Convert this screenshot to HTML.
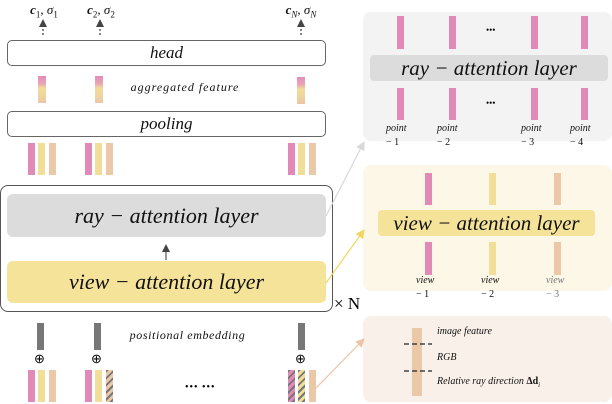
<!DOCTYPE html>
<html><head><meta charset="utf-8"><style>
body{margin:0;width:612px;height:404px;background:#fff;position:relative;overflow:hidden;font-family:"Liberation Serif",serif}
.a{position:absolute}
.box{position:absolute;box-sizing:border-box;border:1.3px solid #666;border-radius:5px;background:#fff}
.t{position:absolute;font-style:italic;text-align:center;white-space:nowrap;color:#111}
.pk{background:#e189b7}.yl{background:#f0de99}.pc{background:#ebc8a8}.gy{background:#777}
.hp{background:repeating-linear-gradient(135deg,#777 0 2px,#e189b7 2px 5px)}
.hy{background:repeating-linear-gradient(135deg,#777 0 2px,#f0de99 2px 5px)}
.hc{background:repeating-linear-gradient(135deg,#777 0 2px,#ebc8a8 2px 5px)}
.ag{background:linear-gradient(#e38ab8 0,#e9a9b4 30%,#f0dc98 45%,#f0d69c 70%,#ebc6a8 100%)}
</style></head><body>
<div class="t" style="left:22px;top:2px;width:44px;font-size:13px"><b>c</b><sub style="font-size:9px;font-style:normal">1</sub>, σ<sub style="font-size:9px;font-style:normal">1</sub></div>
<div class="t" style="left:79px;top:2px;width:44px;font-size:13px"><b>c</b><sub style="font-size:9px;font-style:normal">2</sub>, σ<sub style="font-size:9px;font-style:normal">2</sub></div>
<div class="t" style="left:279px;top:2px;width:44px;font-size:13px"><b>c</b><sub style="font-size:9px">N</sub>, σ<sub style="font-size:9px">N</sub></div>
<div class="box" style="left:7px;top:40px;width:319px;height:26px"></div>
<div class="t" style="left:7px;top:40px;width:319px;font-size:17px;line-height:26px">head</div>
<div class="a ag" style="left:38px;top:76px;width:8px;height:27px"></div>
<div class="a ag" style="left:95px;top:76px;width:8px;height:27px"></div>
<div class="a ag" style="left:297px;top:77px;width:8px;height:27px"></div>
<div class="t" style="left:120px;top:80px;width:130px;font-size:12px;letter-spacing:1px">aggregated feature</div>
<div class="box" style="left:7px;top:111px;width:319px;height:26px"></div>
<div class="t" style="left:7px;top:111px;width:319px;font-size:17px;line-height:26px">pooling</div>
<div class="a pk" style="left:28px;top:143px;width:7px;height:32px"></div><div class="a yl" style="left:38px;top:143px;width:7px;height:32px"></div><div class="a pc" style="left:49px;top:143px;width:7px;height:32px"></div>
<div class="a pk" style="left:85px;top:143px;width:7px;height:32px"></div><div class="a yl" style="left:95px;top:143px;width:7px;height:32px"></div><div class="a pc" style="left:106px;top:143px;width:7px;height:32px"></div>
<div class="a pk" style="left:288px;top:143px;width:7px;height:32px"></div><div class="a yl" style="left:298px;top:143px;width:7px;height:32px"></div><div class="a pc" style="left:309px;top:143px;width:7px;height:32px"></div>
<div class="box" style="left:0;top:185px;width:333px;height:127px;border-radius:8px;border-color:#555"></div>
<div class="a" style="left:7px;top:194px;width:319px;height:43px;background:#dcdcdc;border-radius:6px"></div>
<div class="t" style="left:7px;top:194px;width:319px;font-size:22px;line-height:43px">ray − attention layer</div>
<div class="a" style="left:7px;top:261px;width:319px;height:42px;background:#f6e39a;border-radius:6px"></div>
<div class="t" style="left:7px;top:261px;width:319px;font-size:22px;line-height:42px">view − attention layer</div>
<div class="a" style="left:334px;top:294px;font-size:17px">× N</div>
<div class="a gy" style="left:37px;top:323px;width:7px;height:27px"></div>
<div class="a gy" style="left:94px;top:323px;width:7px;height:27px"></div>
<div class="a gy" style="left:298px;top:323px;width:7px;height:27px"></div>
<div class="t" style="left:115px;top:328px;width:145px;font-size:12px;letter-spacing:0.6px">positional embedding</div>
<div class="a" style="left:34px;top:351px;font-size:13px">⊕</div>
<div class="a" style="left:91px;top:351px;font-size:13px">⊕</div>
<div class="a" style="left:295px;top:351px;font-size:13px">⊕</div>
<div class="a pk" style="left:28px;top:370px;width:7px;height:32px"></div><div class="a yl" style="left:38px;top:370px;width:7px;height:32px"></div><div class="a pc" style="left:49px;top:370px;width:7px;height:32px"></div>
<div class="a pk" style="left:85px;top:370px;width:7px;height:32px"></div><div class="a yl" style="left:95px;top:370px;width:7px;height:32px"></div><div class="a hc" style="left:106px;top:370px;width:7px;height:32px"></div>
<div class="a hp" style="left:288px;top:370px;width:7px;height:32px"></div><div class="a hy" style="left:298px;top:370px;width:7px;height:32px"></div><div class="a pc" style="left:309px;top:370px;width:7px;height:32px"></div>
<div class="a" style="left:185px;top:382px;font-size:10px;letter-spacing:1px">••• •••</div>
<div class="a" style="left:363px;top:12px;width:249px;height:129px;background:#f3f3f3;border-radius:8px"></div>
<div class="a pk" style="left:397px;top:16px;width:7px;height:33px"></div><div class="a pk" style="left:449px;top:16px;width:7px;height:33px"></div><div class="a pk" style="left:531px;top:16px;width:7px;height:33px"></div><div class="a pk" style="left:581px;top:16px;width:7px;height:33px"></div>
<div class="a" style="left:486px;top:25px;font-size:9px">•••</div>
<div class="a" style="left:370px;top:55px;width:238px;height:26px;background:#dcdcdc;border-radius:4px"></div>
<div class="t" style="left:370px;top:55px;width:238px;font-size:21px;line-height:26px">ray − attention layer</div>
<div class="a pk" style="left:397px;top:88px;width:7px;height:32px"></div><div class="a pk" style="left:449px;top:88px;width:7px;height:32px"></div><div class="a pk" style="left:531px;top:88px;width:7px;height:32px"></div><div class="a pk" style="left:581px;top:88px;width:7px;height:32px"></div>
<div class="a" style="left:486px;top:98px;font-size:9px">•••</div>
<div class="t" style="left:386px;top:122px;width:40px;font-size:10px;line-height:14px;text-align:left">point<br><span style="font-style:normal">− 1</span></div>
<div class="t" style="left:437px;top:122px;width:40px;font-size:10px;line-height:14px;text-align:left">point<br><span style="font-style:normal">− 2</span></div>
<div class="t" style="left:521px;top:122px;width:40px;font-size:10px;line-height:14px;text-align:left">point<br><span style="font-style:normal">− 3</span></div>
<div class="t" style="left:570px;top:122px;width:40px;font-size:10px;line-height:14px;text-align:left">point<br><span style="font-style:normal">− 4</span></div>
<div class="a" style="left:363px;top:165px;width:249px;height:126px;background:#fcf7e7;border-radius:8px"></div>
<div class="a pk" style="left:425px;top:173px;width:7px;height:32px"></div><div class="a yl" style="left:489px;top:173px;width:7px;height:32px"></div><div class="a pc" style="left:554px;top:173px;width:7px;height:32px"></div>
<div class="a" style="left:378px;top:210px;width:217px;height:26px;background:#f6e39a;border-radius:4px"></div>
<div class="t" style="left:378px;top:210px;width:217px;font-size:21px;line-height:26px">view − attention layer</div>
<div class="a pk" style="left:425px;top:242px;width:7px;height:33px"></div><div class="a yl" style="left:489px;top:242px;width:7px;height:33px"></div><div class="a pc" style="left:554px;top:242px;width:7px;height:33px"></div>
<div class="t" style="left:416px;top:274px;width:30px;font-size:10px;line-height:14px;text-align:left">view<br><span style="font-style:normal">− 1</span></div>
<div class="t" style="left:481px;top:274px;width:30px;font-size:10px;line-height:14px;text-align:left">view<br><span style="font-style:normal">− 2</span></div>
<div class="t" style="left:546px;top:274px;width:30px;font-size:10px;line-height:14px;text-align:left;color:#777">view<br><span style="font-style:normal">− 3</span></div>
<div class="a" style="left:363px;top:316px;width:249px;height:86px;background:#faf0ea;border-radius:8px"></div>
<div class="a pc" style="left:412px;top:328px;width:10px;height:68px"></div>
<div class="t" style="left:437px;top:326px;font-size:10px;text-align:left">image feature</div>
<div class="t" style="left:437px;top:352px;font-size:10px;text-align:left">RGB</div>
<div class="t" style="left:437px;top:376px;font-size:10px;text-align:left">Relative ray direction <b style="font-style:normal">Δd</b><sub style="font-size:7px">i</sub></div>
<svg class="a" style="left:0;top:0" width="612" height="404">
<defs>
<marker id="m1" markerWidth="8" markerHeight="8" refX="7" refY="4" orient="auto" markerUnits="userSpaceOnUse"><path d="M0,0L8,4L0,8z" fill="#444"/></marker>
<marker id="mg" markerWidth="9" markerHeight="9" refX="8" refY="4.5" orient="auto" markerUnits="userSpaceOnUse"><path d="M0,0L9,4.5L0,9z" fill="#d8d8d8"/></marker>
<marker id="my" markerWidth="9" markerHeight="9" refX="8" refY="4.5" orient="auto" markerUnits="userSpaceOnUse"><path d="M0,0L9,4.5L0,9z" fill="#f2d75e"/></marker>
<marker id="mp" markerWidth="9" markerHeight="9" refX="8" refY="4.5" orient="auto" markerUnits="userSpaceOnUse"><path d="M0,0L9,4.5L0,9z" fill="#ebc4a4"/></marker>
</defs>
<g stroke="#444" stroke-width="1.3" stroke-dasharray="2,2"><line x1="43" y1="35" x2="43" y2="20" marker-end="url(#m1)"/><line x1="100" y1="35" x2="100" y2="20" marker-end="url(#m1)"/><line x1="301" y1="35" x2="301" y2="20" marker-end="url(#m1)"/></g>
<line x1="166" y1="260" x2="166" y2="245" stroke="#333" stroke-width="1" marker-end="url(#m1)"/>
<line x1="326" y1="216" x2="364" y2="142" stroke="#d8d8d8" stroke-width="1.2" marker-end="url(#mg)"/>
<line x1="326" y1="283" x2="364" y2="230" stroke="#f2d75e" stroke-width="1.2" marker-end="url(#my)"/>
<line x1="316" y1="388" x2="364" y2="339" stroke="#ebc4a4" stroke-width="1.2" marker-end="url(#mp)"/>
<g stroke="#222" stroke-width="1.3" stroke-dasharray="5,3"><line x1="404" y1="344" x2="432" y2="344"/><line x1="404" y1="371" x2="432" y2="371"/></g>
</svg>
</body></html>
